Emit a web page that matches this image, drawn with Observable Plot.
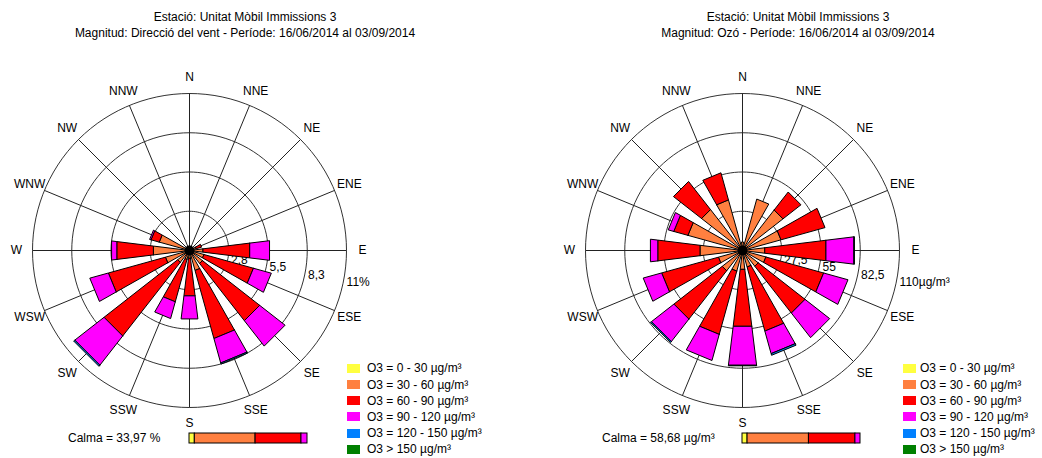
<!DOCTYPE html>
<html><head><meta charset="utf-8">
<script src="https://cdn.jsdelivr.net/npm/d3@7"></script>
<script src="https://cdn.jsdelivr.net/npm/@observablehq/plot@0.6"></script>
<style>
body{margin:0;background:#fff;width:1042px;height:458px;overflow:hidden;position:relative;font-family:"Liberation Sans",Arial,sans-serif;font-size:12px;color:#000}
.panel{position:absolute;top:0;height:458px}
.title{position:absolute;left:0;width:490px;top:9px;text-align:center;line-height:16px;white-space:nowrap}
.rose{position:absolute;left:0;top:62px}
.calmtxt{position:absolute;top:431px;line-height:14px;white-space:nowrap}
.calmbar{position:absolute;top:432px}
.leg{position:absolute;left:0;top:0}
.item{position:absolute;white-space:nowrap;line-height:14px}
.sw{position:absolute;width:13px;height:9px}
</style>
</head><body>
<div id="left" class="panel" style="left:0;width:553px"></div>
<div id="right" class="panel" style="left:553px;width:489px"></div>
<script>
const directions = ["N","NNE","NE","ENE","E","ESE","SE","SSE","S","SSW","SW","WSW","W","WNW","NW","NNW"];
const classLabels = ["O3 = 0 - 30 µg/m³","O3 = 30 - 60 µg/m³","O3 = 60 - 90 µg/m³","O3 = 90 - 120 µg/m³","O3 = 120 - 150 µg/m³","O3 > 150 µg/m³"];
const classColors = ["#ffff40","#ff8040","#ff0000","#ff00ff","#0080ff","#008000"];

// Left rose: wind direction frequency (%) by O3 class
//                      N    NNE  NE   ENE  E    ESE  SE   SSE  S    SSW  SW   WSW  W    WNW  NW   NNW
const windO3_0_30    = [0.02,0.02,0.02,0.03,0.05,0.05,0.05,0.05,0.05,0.05,0.05,0.05,0.05,0.05,0.02,0.02];
const windO3_30_60   = [0.25,0.20,0.18,0.45,0.90,1.00,1.10,1.40,0.50,0.60,1.00,1.70,2.50,2.15,0.25,0.25];
const windO3_60_90   = [0.05,0.03,0.00,0.40,3.30,3.60,5.09,4.95,2.65,3.08,6.55,4.15,2.58,0.60,0.03,0.03];
const windO3_90_120  = [0,0,0,0,1.40,1.30,2.26,1.78,1.63,1.22,2.60,1.35,0.37,0.10,0,0];
const windO3_120_150 = [0,0,0,0,0,0,0,0.08,0,0,0.10,0,0,0,0,0];
const windO3_150     = [0,0,0,0,0,0,0,0,0,0,0,0,0,0,0,0];
const windRings = [2.75, 5.5, 8.25, 11];
const windRingLabels = ["2,8","5,5","8,3","11%"];
const windTitle = ["Estació: Unitat Mòbil Immissions 3","Magnitud: Direcció del vent - Període: 16/06/2014 al 03/09/2014"];
const windCalmText = "Calma = 33,97 %";
const windCalmShares = [4.5, 51.5, 38.9, 5.1, 0, 0];

// Right rose: ozone (µg/m³) by direction and O3 class
//                      N  NNE  NE   ENE  E    ESE  SE   SSE  S    SSW  SW   WSW  W    WNW  NW   NNW
const ozoO3_0_30     = [1, 1,   1,   1,   1,   1,   1,   1,   1,   1,   1,   1,   1,   1,   1,   1];
const ozoO3_30_60    = [5, 36.4,35,  27,  14.7,16,  13,  11,  12.3,14,  17,  16.5,29,  38.7,35.4,35.8];
const ozoO3_60_90    = [0, 0,   16,  32,  43.2,42,  41.6,46.6,40.2,46,  43,  41.3,29.8,10.3,25,  19.7];
const ozoO3_90_120   = [0, 0,   0,   0,   19.7,17.7,21.9,16.4,27.5,19,  20,  13.4,5.2, 4,   0,   0];
const ozoO3_120_150  = [0, 0,   0,   0,   0.4, 0,   0,   1.2, 0.4, 0,   0.8, 0,   0,   0,   0,   0];
const ozoO3_150      = [0, 0,   0,   0,   0,   0,   0,   0,   0,   0,   0,   0,   0,   0,   0,   0];
const ozoRings = [27.5, 55, 82.5, 110];
const ozoRingLabels = ["27,5","55","82,5","110µg/m³"];
const ozoTitle = ["Estació: Unitat Mòbil Immissions 3","Magnitud: Ozó - Període: 16/06/2014 al 03/09/2014"];
const ozoCalmText = "Calma = 58,68 µg/m³";
const ozoCalmShares = [4.3, 52.0, 39.4, 4.3, 0, 0];

const RAD = Math.PI / 180;

function rose(series, rings, ringLabels, W) {
  const H = 356, cx = 189, cy = 188, R = 157;
  const max = rings[rings.length - 1];
  const k = R / max;
  const half = 7 * RAD;
  const segs = [];
  directions.forEach((d, i) => {
    const b = i * 22.5 * RAD;
    let r0 = 0;
    series.forEach((vals, c) => {
      const v = vals[i];
      if (!(v > 0)) return;
      const r1 = r0 + v;
      const id = d + "-" + c;
      [[r0, b - half], [r1, b - half], [r1, b + half], [r0, b + half], [r0, b - half]]
        .forEach(([r, a]) => segs.push({id, cls: classLabels[c], x: r * Math.sin(a), y: r * Math.cos(a)}));
      r0 = r1;
    });
  });
  const circ = [];
  rings.forEach(rv => { for (let j = 0; j <= 120; j++) { const a = j * 3 * RAD; circ.push({ring: rv, x: rv * Math.sin(a), y: rv * Math.cos(a)}); } });
  const lr = max * 173 / 157;
  const lb = 101 * RAD;
  return Plot.plot({
    width: W, height: H, margin: 0,
    style: {fontFamily: "Liberation Sans, Arial, sans-serif", fontSize: "12px", background: "transparent", overflow: "visible"},
    x: {domain: [-cx / k, (W - cx) / k], axis: null},
    y: {domain: [-(H - cy) / k, cy / k], axis: null},
    color: {domain: classLabels, range: classColors},
    marks: [
      Plot.line(circ, {x: "x", y: "y", z: "ring", stroke: "#333", strokeWidth: 1}),
      Plot.link(directions, {x1: () => 0, y1: () => 0, x2: (d, i) => max * Math.sin(i * 22.5 * RAD), y2: (d, i) => max * Math.cos(i * 22.5 * RAD), stroke: "#222", strokeWidth: 1}),
      Plot.text(rings, {x: r => r * Math.sin(lb), y: r => r * Math.cos(lb), text: (r, i) => ringLabels[i], textAnchor: "start", dx: 3, dy: 2, fill: "#000", fontSize: 12}),
      Plot.text(directions, {x: (d, i) => lr * Math.sin(i * 22.5 * RAD), y: (d, i) => lr * Math.cos(i * 22.5 * RAD), text: d => d, fill: "#000", fontSize: 12}),
      Plot.line(segs, {x: "x", y: "y", z: "id", fill: "cls", stroke: "#000", strokeWidth: 1, strokeLinejoin: "miter"}),
      Plot.dot([0], {x: () => 0, y: () => 0, r: 5, fill: "#000"})
    ]
  });
}

function calmBar(shares) {
  const data = classLabels.map((c, i) => ({cls: c, v: shares[i]})).filter(d => d.v > 0);
  return Plot.plot({
    width: 120, height: 12, margin: 1,
    x: {domain: [0, 100], axis: null},
    color: {domain: classLabels, range: classColors},
    marks: [Plot.barX(data, Plot.stackX({x: "v", fill: "cls", stroke: "#000", strokeWidth: 1, order: null}))]
  });
}

function panel(el, opts) {
  const t = document.createElement("div");
  t.className = "title";
  t.innerHTML = opts.title.map(s => `<div>${s}</div>`).join("");
  el.appendChild(t);
  const svg = rose(opts.series, opts.rings, opts.ringLabels, opts.W);
  svg.classList.add("rose");
  el.appendChild(svg);
  classLabels.forEach((c, i) => {
    const y = 368.3 + i * 16.2;
    const sw = document.createElement("div");
    sw.className = "sw";
    sw.style.left = opts.swX + "px";
    sw.style.top = (y - 4.5) + "px";
    sw.style.background = classColors[i];
    el.appendChild(sw);
    const tx = document.createElement("div");
    tx.className = "item";
    tx.style.left = "367px";
    tx.style.top = (y - 7) + "px";
    tx.textContent = c;
    el.appendChild(tx);
  });
  const ct = document.createElement("div");
  ct.className = "calmtxt";
  ct.style.left = opts.calmX + "px";
  ct.textContent = opts.calmText;
  el.appendChild(ct);
  const cb = calmBar(opts.calmShares);
  cb.classList.add("calmbar");
  cb.style.left = "188px";
  el.appendChild(cb);
}

panel(document.getElementById("left"), {
  title: windTitle, W: 553, swX: 347,
  series: [windO3_0_30, windO3_30_60, windO3_60_90, windO3_90_120, windO3_120_150, windO3_150],
  rings: windRings, ringLabels: windRingLabels, calmText: windCalmText, calmX: 68, calmShares: windCalmShares
});
panel(document.getElementById("right"), {
  title: ozoTitle, W: 489, swX: 350,
  series: [ozoO3_0_30, ozoO3_30_60, ozoO3_60_90, ozoO3_90_120, ozoO3_120_150, ozoO3_150],
  rings: ozoRings, ringLabels: ozoRingLabels, calmText: ozoCalmText, calmX: 49, calmShares: ozoCalmShares
});
</script>
</body></html>
